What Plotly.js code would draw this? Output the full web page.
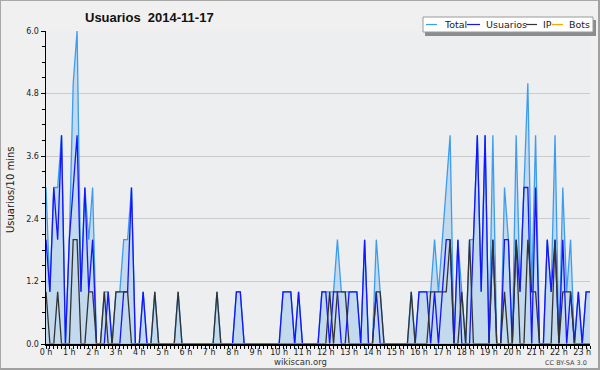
<!DOCTYPE html>
<html>
<head>
<meta charset="utf-8">
<script src="https://cdn.plot.ly/plotly-3.0.1.min.js"></script>
<style>
html,body{margin:0;padding:0;background:#f0f0f0;}
#chart{width:600px;height:370px;position:relative;}
#frame{position:absolute;left:0;top:0;width:600px;height:370px;box-sizing:border-box;border:1px solid #a8a8a8;border-right:2px solid #a0a0a0;border-bottom:2px solid #a0a0a0;pointer-events:none;}
</style>
</head>
<body>
<div id="chart"></div>
<div id="frame"></div>
<script>
// 10-minute slots from 00:00 to 23:20
const hourLabels = ["0 h","1 h","2 h","3 h","4 h","5 h","6 h","7 h","8 h","9 h","10 h","11 h","12 h","13 h","14 h","15 h","16 h","17 h","18 h","19 h","20 h","21 h","22 h","23 h"];
const usuarios = [2,1,3,2,4,0,2,3,4,1,3,1,2,0,0,0,1,0,0,0,1,1,3,0,0,1,0,0,0,0,
                  0,0,0,0,0,0,0,0,0,0,0,0,0,0,0,0,0,0,0,1,1,0,0,0,0,0,0,0,0,0,
                  0,1,1,1,0,1,0,0,0,0,0,1,1,0,1,1,0,0,1,1,1,0,2,0,0,1,0,0,0,0,
                  0,0,0,0,0,0,1,1,1,0,1,0,1,2,2,0,2,0,0,0,2,4,1,4,0,2,0,0,2,2,
                  0,2,1,3,3,0,3,0,0,2,1,2,0,2,0,1,0,1,0,1,1];
const ip =       [1,0,0,1,0,0,0,2,2,0,0,1,1,0,0,1,0,0,1,1,1,1,0,0,0,0,0,0,1,0,
                  0,0,0,0,1,0,0,0,0,0,0,0,0,0,1,0,0,0,0,0,0,0,0,0,0,0,0,0,0,0,
                  0,0,0,0,0,0,0,0,0,0,0,0,0,1,0,1,1,1,0,0,0,0,0,0,0,1,1,0,0,0,
                  0,0,0,0,1,0,0,0,0,1,1,1,1,1,2,0,0,1,0,2,0,0,0,0,0,2,0,0,1,0,
                  0,2,0,0,2,1,1,0,0,0,0,2,0,1,1,1,0,0,0,0,0];
const total =    [3,1,3,3,4,0,2,5,6,1,3,2,3,0,0,1,1,0,1,1,2,2,3,0,0,1,0,0,1,0,
                  0,0,0,0,1,0,0,0,0,0,0,0,0,0,1,0,0,0,0,1,1,0,0,0,0,0,0,0,0,0,
                  0,1,1,1,0,1,0,0,0,0,0,1,1,1,1,2,1,1,1,1,1,0,2,0,0,2,1,0,0,0,
                  0,0,0,0,1,0,1,1,1,1,2,1,2,3,4,0,2,1,0,2,2,4,1,4,0,4,0,0,3,2,
                  0,4,1,3,5,1,4,0,0,2,1,4,0,3,1,2,0,1,0,1,1];
const bots = new Array(total.length).fill(0);

const slots = total.map((v,i)=>i);
const hourTicks = hourLabels.map((t,h)=>h*6);

// plot area in pixels
const L=46, R=590, T=31, B=344;
const px = x => (x-L)/(R-L);
const py = y => (B-y)/(B-T);

const traces = [
  {x:slots,y:total,name:'Total',type:'scatter',mode:'lines',fill:'tozeroy',
   fillcolor:'rgba(160,200,236,0.55)',line:{color:'#3d9cf0',width:1.3}},
  {x:slots,y:usuarios,name:'Usuarios',type:'scatter',mode:'lines',line:{color:'#1414ff',width:1.3}},
  {x:slots,y:ip,name:'IP',type:'scatter',mode:'lines',line:{color:'#333333',width:1.3}},
  {x:slots,y:bots,name:'Bots',type:'scatter',mode:'lines',line:{color:'#ffa500',width:1.2}}
];

const shapes = [];
const annotations = [];
// custom legend
shapes.push({type:'rect',xref:'paper',yref:'paper',x0:px(425),x1:px(596),y0:py(36),y1:py(20),fillcolor:'#8c8c8c',line:{width:0},layer:'above'});
shapes.push({type:'rect',xref:'paper',yref:'paper',x0:px(423),x1:px(593),y0:py(32),y1:py(17),fillcolor:'#ffffff',line:{color:'#9a9a9a',width:1},layer:'above'});
const legItems = [
  {name:'Total',color:'#3d9cf0',l0:426,l1:437,t:442},
  {name:'Usuarios',color:'#1414ff',l0:467,l1:480,t:484},
  {name:'IP',color:'#333333',l0:526,l1:537,t:541},
  {name:'Bots',color:'#ffa500',l0:552,l1:563,t:567}
];
legItems.forEach(it=>{
  shapes.push({type:'line',xref:'paper',yref:'paper',x0:px(it.l0),x1:px(it.l1),y0:py(24.5),y1:py(24.5),line:{color:it.color,width:1.2},layer:'above'});
  annotations.push({xref:'paper',yref:'paper',x:px(it.t),y:py(24.5),xanchor:'left',yanchor:'middle',text:it.name,showarrow:false,font:{family:'DejaVu Sans',size:9.5,color:'#222'}});
});
annotations.push({xref:'paper',yref:'paper',x:px(10),y:py(190),text:'Usuarios/10 mins',textangle:-90,showarrow:false,xanchor:'center',yanchor:'middle',font:{family:'DejaVu Sans',size:10,color:'#222'}});
annotations.push({xref:'paper',yref:'paper',x:px(300),y:py(362),text:'wikiscan.org',showarrow:false,xanchor:'center',yanchor:'middle',font:{family:'DejaVu Sans',size:8.5,color:'#333'}});
annotations.push({xref:'paper',yref:'paper',x:px(589),y:py(363),text:'CC BY-SA 3.0',showarrow:false,xanchor:'right',yanchor:'middle',font:{family:'DejaVu Sans',size:6.5,color:'#444'}});

const layout = {
  width:600,height:370,
  margin:{l:L,r:600-R,t:T,b:370-B,pad:0},
  paper_bgcolor:'#f0f0f0',
  plot_bgcolor:'#eceef0',
  showlegend:false,
  title:{text:'Usuarios  2014-11-17',x:px(85),xref:'paper',xanchor:'left',y:1-17/370,yanchor:'middle',
         font:{family:'Liberation Sans',size:13,color:'#111',weight:'bold'}},
  xaxis:{range:[0,140],tickvals:hourTicks,ticktext:hourLabels,ticks:'outside',ticklen:3,tickwidth:1,tickcolor:'#000',
         ticklabelstandoff:-3,
         showline:true,linecolor:'#000',linewidth:1.5,showgrid:false,zeroline:false,
         tickfont:{family:'DejaVu Sans',size:8,color:'#222'},
         minor:{dtick:1,tick0:0,ticks:'outside',ticklen:3,tickcolor:'#000',tickwidth:1,showgrid:false}},
  yaxis:{range:[0,6],dtick:1.2,tick0:0,tickformat:'.1f',ticks:'outside',ticklen:4,tickcolor:'#000',
         showline:true,linecolor:'#000',linewidth:1.5,showgrid:true,gridcolor:'#cbcbcb',gridwidth:1,zeroline:false,
         tickfont:{family:'DejaVu Sans',size:8,color:'#222'},
         minor:{dtick:0.3,ticks:'outside',ticklen:2.5,tickcolor:'#000',showgrid:false}},
  shapes:shapes,
  annotations:annotations
};
Plotly.newPlot('chart',traces,layout,{staticPlot:true,displayModeBar:false});
</script>
</body>
</html>
